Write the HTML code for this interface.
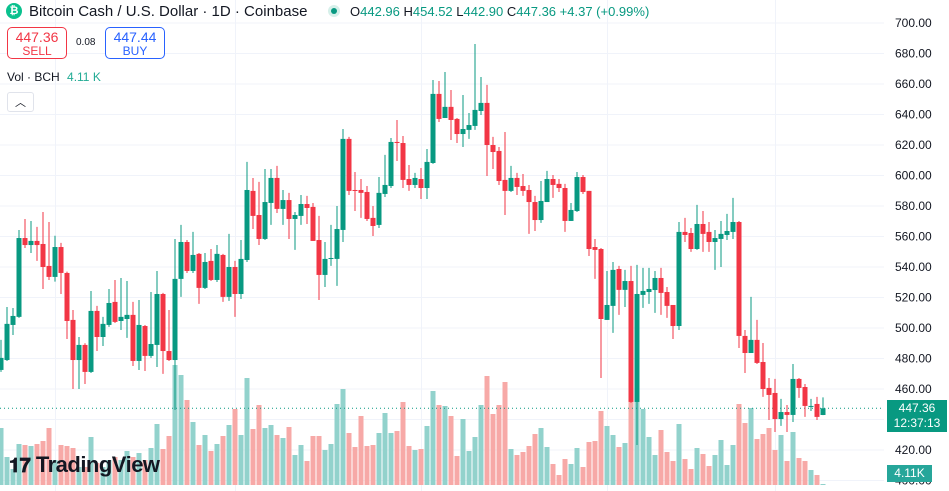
<!DOCTYPE html>
<html><head><meta charset="utf-8">
<style>
body{margin:0;width:949px;height:491px;overflow:hidden;background:#fff;font-family:"Liberation Sans",sans-serif;}
#wrap{position:relative;width:949px;height:491px;}
svg{position:absolute;left:0;top:0;}
.hdr{position:absolute;left:29px;top:3px;font-size:15px;color:#131722;white-space:nowrap;}
.ohlc{position:absolute;left:350px;top:4px;font-size:13px;color:#131722;white-space:nowrap;}
.ohlc span{color:#089981;}
.btn{position:absolute;top:27px;width:60px;height:32px;border:1px solid;border-radius:5px;text-align:center;font-size:12px;line-height:14px;box-sizing:border-box;padding-top:2px;background:#fff;}
</style></head><body>
<div id="wrap">
<svg id="chart" width="949" height="491"></svg>
<div style="position:absolute;left:6px;top:3px;width:16px;height:16px;border-radius:50%;background:#0ac18e;color:#fff;font-size:11px;text-align:center;line-height:16px;font-weight:bold;">₿</div>
<div class="hdr">Bitcoin Cash / U.S. Dollar · 1D · Coinbase</div>
<div style="position:absolute;left:328px;top:5px;width:12px;height:12px;border-radius:50%;background:#d6f0ea;"><div style="margin:3px;width:6px;height:6px;border-radius:50%;background:#089981"></div></div>
<div class="ohlc">O<span>442.96</span> H<span>454.52</span> L<span>442.90</span> C<span>447.36</span> <span>+4.37 (+0.99%)</span></div>
<div class="btn" style="left:7px;border-color:#f23645;color:#f23645;"><div style="font-size:14px">447.36</div><div>SELL</div></div>
<div style="position:absolute;left:76px;top:37px;font-size:10px;color:#131722;">0.08</div>
<div class="btn" style="left:105px;border-color:#2962ff;color:#2962ff;"><div style="font-size:14px">447.44</div><div>BUY</div></div>
<div style="position:absolute;left:7px;top:70px;font-size:12px;color:#131722;">Vol · BCH <span style="color:#22ab94;margin-left:4px">4.11 K</span></div>
<div style="position:absolute;left:7px;top:92px;width:27px;height:20px;border:1px solid #e0e3eb;border-radius:3px;box-sizing:border-box;text-align:center;font-size:11px;line-height:20px;color:#131722;">︿</div>
<div style="position:absolute;left:9px;top:452px;font-size:22px;font-weight:bold;color:#131722;letter-spacing:-0.5px;"><span style="font-size:20px">𝟏𝟕</span> TradingView</div>
<div style="position:absolute;left:887px;top:400px;width:60px;height:32px;background:#089981;color:#fff;font-size:12px;text-align:center;line-height:15px;padding-top:1px;box-sizing:border-box;">447.36<br>12:37:13</div>
<div style="position:absolute;left:887px;top:465px;width:45px;height:17px;background:#26a69a;color:#fff;font-size:12px;text-align:center;line-height:17px;">4.11K</div>
</div>
<script>
const opens=[472.5,479.0,502.0,507.3,559.0,554.4,557.1,555.1,540.7,533.5,553.1,536.1,505.3,479.0,488.9,471.2,511.2,494.1,502.0,517.1,504.6,505.9,508.6,478.4,501.3,481.7,488.9,522.3,484.9,479.0,532.2,556.4,537.4,548.6,526.3,544.0,531.5,547.9,520.4,540.0,522.3,544.6,589.9,574.1,558.4,582.0,598.4,578.1,583.9,571.5,573.5,581.3,579.4,557.7,534.8,545.3,545.3,564.3,624.0,590.5,590.5,589.2,572.2,567.6,587.9,593.1,622.0,621.3,597.7,593.8,597.7,591.8,608.2,653.5,637.7,645.0,637.1,627.2,629.9,632.5,642.3,647.6,620.0,616.1,597.1,589.9,598.4,593.1,590.5,582.6,570.8,582.6,597.7,594.5,591.8,570.2,576.7,599.0,589.9,553.1,551.8,505.3,514.5,538.7,525.0,530.8,451.5,521.7,523.6,524.9,532.8,523.6,515.1,501.3,563.0,562.3,551.8,568.2,563.0,556.4,558.4,561.0,563.0,569.5,494.8,483.6,492.2,477.7,460.7,457.4,440.3,444.9,443.0,466.6,461.3,448.7,450.2,442.96];
const highs=[492.2,513.8,513.1,564.3,571.5,570.2,566.3,576.1,569.5,560.5,555.8,537,511.8,494.1,490,524.3,514.5,507.3,525.6,531.5,532.8,530.8,517.1,518.4,502,523.6,537.4,523.0,511.8,558.4,567.6,557.7,563.0,549.2,549.2,551.8,554.4,548.6,561.7,544.0,557.7,608.9,598.4,595.8,604.3,604.3,606.3,590.5,588.6,576.1,587.2,586.6,582.0,573.5,556.4,567.6,580.0,630.5,625.3,602.3,597.7,593.1,580.0,599.0,613.5,624.6,636.4,625.9,606.9,601.7,604.9,617.4,662.6,662.0,667.9,656.1,637.7,652.8,641.0,686.2,664.6,659.4,625.3,618.7,628.5,606.3,601.7,601.0,593.8,586.6,596.4,603.0,600.3,597.7,594.5,582.0,602.3,600.3,589.9,558.4,552.5,537.4,543.3,540.7,538.1,540.7,541.4,539.4,539.4,537.4,539.4,526.9,515.1,569.5,572.2,565.6,580.7,576.7,569.5,564.3,570.2,574.8,585.3,570.2,498.7,520.4,505.3,490.2,467.2,466.6,453.5,449.5,476.4,467.2,463.3,453.5,454.8,454.52];
const lows=[471.2,478.4,495.4,506.6,552.5,549.2,544.0,525.6,531.5,530.4,522.3,492.8,460.0,460.0,463.3,470.5,484.9,488.2,500.7,503.3,498.7,493.5,475.1,472.5,471.8,480.4,474.4,469.9,478.4,446.3,520.4,536.1,536.1,515.8,525.6,530.8,530.2,517.1,517.8,507.3,519.0,543.3,564.9,554.4,557.7,567.6,575.4,567.6,558.4,551.2,567.6,568.2,557.1,518.4,526.9,540.7,527.6,556.4,587.2,576.7,572.2,570.2,560.3,565.6,585.9,591.8,609.5,591.8,589.9,591.8,584.6,584.6,607.6,635.1,637.7,623.3,621.3,618.7,624.0,629.9,639.7,599.7,604.3,593.8,574.1,589.2,587.2,586.6,561.7,563.6,568.9,582.6,585.3,589.2,563.0,570.2,576.1,587.9,547.2,532.2,467.2,505.3,496.8,508.6,513.8,450.9,423.3,513.2,515.8,509.9,508.6,506.6,492.8,498.7,556.4,549.9,551.2,549.9,549.9,538.1,540.0,557.7,558.4,486.9,470.5,483.6,476.4,454.8,439.7,431.8,435.8,431.8,438.4,454.2,441.7,445.6,439.7,442.90];
const closes=[480.4,502.7,507.9,559.0,554.4,557.1,554.4,540.0,533.5,553.1,536.1,504.6,479.0,488.9,471.2,511.2,494.1,502.7,516.4,504.0,507.3,508.6,478.4,502.0,481.7,489.5,522.3,484.9,479.0,532.2,556.4,537.4,547.9,526.3,543.3,531.5,548.6,520.4,540.0,522.3,545.3,590.5,573.5,558.4,582.6,598.4,578.1,583.9,571.5,574.1,581.3,578.7,557.1,534.8,545.3,545.9,564.9,624.0,589.9,589.9,588.6,571.5,566.9,588.6,593.8,622.0,621.3,597.1,593.8,598.4,591.8,608.9,653.5,637.1,645.0,636.4,627.2,630.5,633.1,643.0,647.6,620.0,615.4,596.4,589.9,598.4,592.5,589.9,582.6,570.8,583.3,597.7,593.8,591.8,570.2,577.4,599.0,589.2,551.8,551.2,505.9,515.1,538.1,525.0,530.8,451.5,522.3,524.3,525.6,532.8,523.0,514.5,501.3,563.0,561.0,551.8,568.2,561.7,556.4,559.0,561.7,563.6,569.5,494.8,483.6,492.2,477.1,460.0,456.1,440.3,444.9,443.0,466.6,460.7,448.9,448.9,441.7,447.36];
const volumes=[57,28,16,41,40,39,41,44,57,25,40,39,37,18,18,48,22,18,25,28,25,34,28,32,25,37,61,36,49,120,110,85,63,40,50,34,41,49,60,76,50,107,56,80,57,60,50,47,58,30,40,24,49,49,35,41,81,96,52,38,69,39,40,52,72,52,54,83,39,35,36,59,94,80,79,69,29,66,34,48,80,109,71,80,103,36,30,33,39,51,57,38,21,10,26,21,37,18,43,44,74,59,50,38,42,83,83,76,48,30,55,33,24,61,26,16,37,31,19,30,45,20,40,81,62,77,46,51,57,35,50,24,53,27,24,15,10,1];
const priceTicks=[700,680,660,640,620,600,580,560,540,520,500,480,460,440,420,400];
const timeGrid=[9,39,70,101,129];
const lastPrice=447.36;

const NS='http://www.w3.org/2000/svg';
const svg=document.getElementById('chart');
const yP=p=>23+(700-p)*1.525;
const xI=i=>1+6*i;
const yV=v=>485-v;
function mk(tag,attrs){const e=document.createElementNS(NS,tag);for(const k in attrs)e.setAttribute(k,attrs[k]);svg.appendChild(e);return e;}
priceTicks.forEach(t=>{
  const l=mk('line',{x1:0,x2:884,y1:yP(t),y2:yP(t),stroke:'#f0f3fa','stroke-width':1});
  
  
  const tx=mk('text',{x:895,y:yP(t)+4,'font-size':12,fill:'#131722','font-family':'Liberation Sans, sans-serif'});
  tx.textContent=t.toFixed(2);
  
  
});
timeGrid.forEach(i=>{
  const l=mk('line',{x1:xI(i)+0.5,x2:xI(i)+0.5,y1:0,y2:491,stroke:'#f0f3fa','stroke-width':1});
  
  
});
volumes.forEach((v,i)=>{
  const up=closes[i]>=opens[i];
  const r=mk('rect',{x:xI(i)-2.5,y:yV(v),width:5,height:v,fill:up?'#92d2cc':'#f7a9a7'});
  
  
});
const lp=mk('line',{x1:0,x2:884,y1:yP(lastPrice),y2:yP(lastPrice),stroke:'#089981','stroke-width':1,'stroke-dasharray':'1,3'});


opens.forEach((o,i)=>{
  const c=closes[i],up=c>=o,col=up?'#089981':'#f23645',x=xI(i);
  const w=mk('line',{x1:x,x2:x,y1:yP(highs[i]),y2:yP(lows[i]),stroke:col,'stroke-width':1});
  
  
  const top=yP(Math.max(o,c)),h=Math.max(1,yP(Math.min(o,c))-top);
  const b=mk('rect',{x:x-2.5,y:top,width:5,height:h,fill:col});
  
  
});
</script>
</body></html>
